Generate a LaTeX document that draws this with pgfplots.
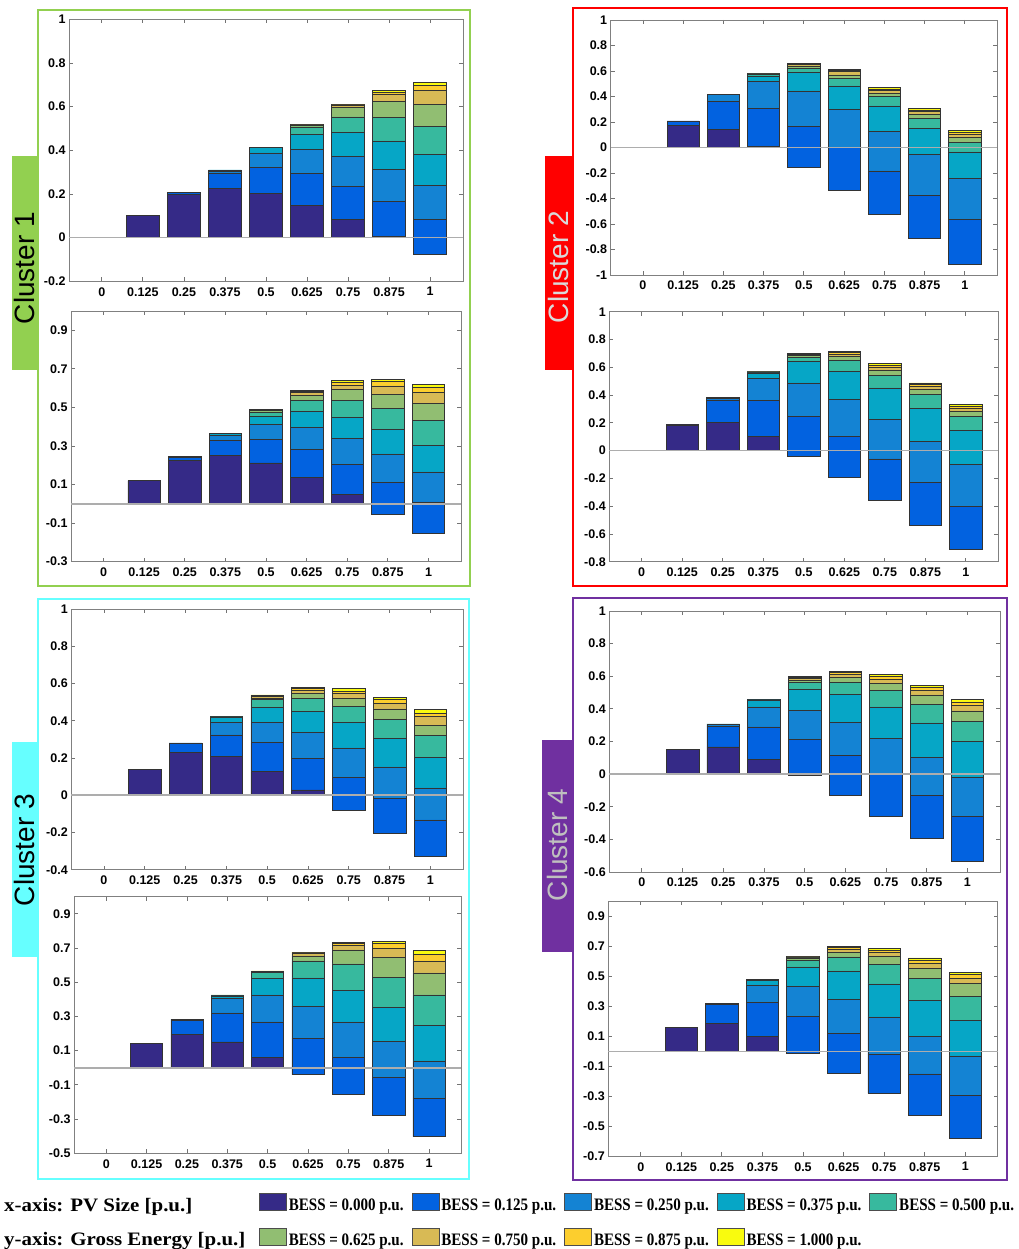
\documentclass[border=0pt]{standalone}
\usepackage{fontspec}
\usepackage{pgfplots}
\usepackage{pgfplotstable}
\pgfplotsset{compat=1.18}
\setmainfont{Liberation Sans}
\newfontfamily\arialf{Liberation Sans}
\newfontfamily\legf[FakeStretch=0.86]{Liberation Serif}
\newfontfamily\axdf[FakeStretch=1.1]{Liberation Serif}

\definecolor{c0}{RGB}{53,42,135}
\definecolor{c1}{RGB}{2,98,224}
\definecolor{c2}{RGB}{20,131,211}
\definecolor{c3}{RGB}{6,166,198}
\definecolor{c4}{RGB}{55,185,158}
\definecolor{c5}{RGB}{145,190,114}
\definecolor{c6}{RGB}{216,186,85}
\definecolor{c7}{RGB}{252,206,46}
\definecolor{c8}{RGB}{249,251,14}
\definecolor{frA}{RGB}{146,208,80}
\definecolor{frB}{RGB}{255,0,0}
\definecolor{frC}{RGB}{102,255,255}
\definecolor{frD}{RGB}{112,48,160}

% columns: x, bottom of bar, top after each BESS level (0.000 ... 1.000)
\pgfplotstableread{
x b t0 t1 t2 t3 t4 t5 t6 t7 t8
0 0 0 0 0 0 0 0 0 0 0
1 0 .102 .102 .102 .102 .102 .102 .102 .102 .102
2 0 .197 .208 .208 .208 .208 .208 .208 .208 .208
3 0 .226 .293 .304 .310 .310 .310 .310 .310 .310
4 0 .2015 .322 .388 .412 .415 .415 .415 .415 .415
5 0 .148 .296 .405 .473 .507 .513 .516 .518 .518
6 0 .084 .235 .372 .481 .553 .597 .604 .608 .611
7 0 .006 .166 .313 .443 .551 .623 .658 .667 .675
8 -.078 -.078 .084 .238 .382 .508 .612 .675 .696 .710
}\ConeT
\pgfplotstableread{
x b t0 t1 t2 t3 t4 t5 t6 t7 t8
0 0 0 0 0 0 0 0 0 0 0
1 0 .121 .121 .121 .121 .121 .121 .121 .121 .121
2 0 .226 .240 .245 .245 .245 .245 .245 .245 .245
3 0 .250 .328 .357 .364 .366 .366 .366 .366 .366
4 0 .212 .333 .410 .455 .476 .483 .486 .488 .488
5 0 .136 .281 .395 .478 .536 .564 .578 .583 .588
6 0 .047 .203 .338 .447 .536 .593 .616 .631 .640
7 -.052 -.052 .110 .259 .388 .497 .569 .612 .633 .647
8 -.153 -.153 .010 .166 .305 .431 .522 .576 .602 .621
}\ConeB
\pgfplotstableread{
x b t0 t1 t2 t3 t4 t5 t6 t7 t8
0 0 0 0 0 0 0 0 0 0 0
1 0 .172 .209 .209 .209 .209 .209 .209 .209 .209
2 0 .144 .360 .418 .418 .418 .418 .418 .418 .418
3 0 .008 .308 .520 .561 .574 .577 .579 .580 .581
4 -.154 -.154 .167 .444 .587 .621 .640 .653 .658 .661
5 -.334 -.334 0 .300 .483 .543 .569 .595 .606 .614
6 -.522 -.522 -.183 .128 .326 .402 .426 .446 .460 .470
7 -.715 -.715 -.373 -.055 .151 .230 .261 .282 .295 .305
8 -.914 -.914 -.567 -.243 -.034 .042 .078 .104 .120 .133
}\CtwoT
\pgfplotstableread{
x b t0 t1 t2 t3 t4 t5 t6 t7 t8
0 0 0 0 0 0 0 0 0 0 0
1 0 .185 .189 .189 .189 .189 .189 .189 .189 .189
2 0 .201 .365 .376 .381 .381 .381 .381 .381 .381
3 0 .103 .362 .520 .559 .564 .566 .567 .568 .568
4 -.038 -.038 .247 .487 .643 .671 .683 .690 .695 .700
5 -.194 -.194 .103 .369 .571 .650 .676 .693 .705 .712
6 -.360 -.360 -.060 .225 .451 .540 .576 .597 .614 .628
7 -.535 -.535 -.228 .065 .305 .403 .441 .460 .475 .487
8 -.710 -.710 -.400 -.101 .144 .247 .285 .302 .319 .331
}\CtwoB
\pgfplotstableread{
x b t0 t1 t2 t3 t4 t5 t6 t7 t8
0 0 0 0 0 0 0 0 0 0 0
1 0 .140 .140 .140 .140 .140 .140 .140 .140 .140
2 0 .229 .278 .281 .281 .281 .281 .281 .281 .281
3 0 .208 .324 .391 .418 .421 .423 .423 .423 .423
4 0 .127 .283 .391 .471 .513 .522 .529 .536 .539
5 0 .029 .197 .337 .450 .520 .548 .565 .572 .579
6 -.082 -.082 .097 .254 .389 .477 .522 .545 .557 .572
7 -.204 -.204 -.016 .152 .305 .407 .464 .493 .513 .527
8 -.326 -.326 -.133 .039 .201 .321 .373 .423 .441 .461
}\CthreeT
\pgfplotstableread{
x b t0 t1 t2 t3 t4 t5 t6 t7 t8
0 0 0 0 0 0 0 0 0 0 0
1 0 .141 .141 .141 .141 .141 .141 .141 .141 .141
2 0 .197 .279 .283 .283 .283 .283 .283 .283 .283
3 0 .151 .321 .404 .420 .424 .426 .426 .426 .426
4 0 .063 .268 .426 .521 .557 .562 .564 .566 .566
5 -.040 -.040 .174 .361 .525 .625 .654 .668 .672 .676
6 -.156 -.156 .063 .268 .451 .607 .689 .715 .726 .733
7 -.277 -.277 -.056 .155 .354 .526 .647 .699 .727 .740
8 -.402 -.402 -.177 .040 .246 .426 .555 .625 .664 .684
}\CthreeB
\pgfplotstableread{
x b t0 t1 t2 t3 t4 t5 t6 t7 t8
0 0 0 0 0 0 0 0 0 0 0
1 0 .153 .153 .153 .153 .153 .153 .153 .153 .153
2 0 .167 .294 .304 .308 .308 .308 .308 .308 .308
3 0 .092 .290 .412 .455 .459 .459 .459 .459 .459
4 -.010 -.010 .214 .392 .520 .561 .576 .586 .592 .598
5 -.131 -.131 .114 .318 .488 .563 .592 .610 .622 .631
6 -.259 -.259 -.004 .218 .412 .514 .555 .582 .598 .610
7 -.394 -.394 -.129 .104 .314 .429 .486 .514 .531 .545
8 -.535 -.535 -.259 -.018 .202 .322 .388 .422 .443 .459
}\CfourT
\pgfplotstableread{
x b t0 t1 t2 t3 t4 t5 t6 t7 t8
0 0 0 0 0 0 0 0 0 0 0
1 0 .157 .157 .157 .157 .157 .157 .157 .157 .157
2 0 .184 .312 .319 .319 .319 .319 .319 .319 .319
3 0 .098 .324 .443 .474 .479 .479 .479 .479 .479
4 -.013 -.013 .235 .434 .563 .607 .623 .629 .631 .632
5 -.146 -.146 .117 .348 .536 .629 .660 .680 .691 .698
6 -.281 -.281 -.018 .230 .450 .581 .636 .660 .674 .687
7 -.428 -.428 -.151 .102 .337 .485 .554 .590 .607 .623
8 -.578 -.578 -.293 -.031 .208 .368 .452 .488 .512 .527
}\CfourB

\newcommand\stackbars[1]{%
  \addplot[draw=none,fill=none] table[x=x,y=b]{#1};
  \addplot[fill=c0] table[x=x,y expr=\thisrow{t0}-\thisrow{b}]{#1};
  \addplot[fill=c1] table[x=x,y expr=\thisrow{t1}-\thisrow{t0}]{#1};
  \addplot[fill=c2] table[x=x,y expr=\thisrow{t2}-\thisrow{t1}]{#1};
  \addplot[fill=c3] table[x=x,y expr=\thisrow{t3}-\thisrow{t2}]{#1};
  \addplot[fill=c4] table[x=x,y expr=\thisrow{t4}-\thisrow{t3}]{#1};
  \addplot[fill=c5] table[x=x,y expr=\thisrow{t5}-\thisrow{t4}]{#1};
  \addplot[fill=c6] table[x=x,y expr=\thisrow{t6}-\thisrow{t5}]{#1};
  \addplot[fill=c7] table[x=x,y expr=\thisrow{t7}-\thisrow{t6}]{#1};
  \addplot[fill=c8] table[x=x,y expr=\thisrow{t8}-\thisrow{t7}]{#1};
}

\pgfplotsset{panel/.style={
  scale only axis, axis on top,
  ybar stacked, stack negative=on previous, bar width=0.8,
  xmin=-0.8, xmax=8.8, xtick={0,...,8},
  xticklabels={0,0.125,0.25,0.375,0.5,0.625,0.75,0.875,1},
  xtick pos=both, ytick pos=both, tick align=inside,
  major tick length=4pt,
  axis line style={black!50, line width=0.8pt},
  every tick/.style={black!55, line width=0.8pt},
  tick label style={font=\arialf\bfseries\fontsize{12.5}{14}\selectfont},
  xticklabel style={yshift=-2.5pt},
  /pgf/number format/assume math mode=true,
  extra y ticks={0}, extra y tick labels={},
  extra y tick style={grid=major, major grid style={black!32, line width=1.5pt}, major tick length=0pt},
  every axis plot/.append style={draw=black!80, line width=0.6pt},
}}

\begin{document}
\begin{tikzpicture}
\useasboundingbox (0pt,0pt) rectangle (1018pt,-1249pt);
% cluster frames and labels
\draw[frA, line width=1.6pt] (38pt,-10pt) rectangle (470pt,-586pt);
\draw[frB, line width=1.8pt] (573pt,-8pt) rectangle (1007pt,-586pt);
\draw[frC, line width=1.6pt] (38pt,-599pt) rectangle (469pt,-1179pt);
\draw[frD, line width=1.8pt] (573pt,-598pt) rectangle (1007pt,-1180pt);
\fill[frA] (12pt,-156pt) rectangle (37pt,-370pt);
\fill[frB] (545pt,-156pt) rectangle (572pt,-370pt);
\fill[frC] (12pt,-742pt) rectangle (37pt,-957pt);
\fill[frD] (542pt,-740pt) rectangle (572pt,-952pt);
\node[rotate=90, font=\arialf\fontsize{28}{30}\selectfont, text=black, inner sep=0pt] at (24.5pt,-268pt) {Cluster 1};
\node[rotate=90, font=\arialf\fontsize{28}{30}\selectfont, text=black!15, inner sep=0pt] at (558pt,-267pt) {Cluster 2};
\node[rotate=90, font=\arialf\fontsize{28}{30}\selectfont, text=black, inner sep=0pt] at (24.5pt,-850pt) {Cluster 3};
\node[rotate=90, font=\arialf\fontsize{28}{30}\selectfont, text=black!25, inner sep=0pt] at (557pt,-845pt) {Cluster 4};

% Cluster 1
\begin{axis}[panel, at={(69pt,-281.3pt)}, anchor=south west, width=394pt, height=262pt,
  ymin=-0.2, ymax=1, ytick={-0.2,0,0.2,0.4,0.6,0.8,1}]
\stackbars{\ConeT}
\end{axis}
\begin{axis}[panel, at={(71pt,-561.7pt)}, anchor=south west, width=390pt, height=250.7pt,
  ymin=-0.3, ymax=1, ytick={-0.3,-0.1,0.1,0.3,0.5,0.7,0.9}]
\stackbars{\ConeB}
\end{axis}
% Cluster 2
\begin{axis}[panel, at={(610.7pt,-275pt)}, anchor=south west, width=386.3pt, height=255pt,
  ymin=-1, ymax=1, ytick={-1,-0.8,-0.6,-0.4,-0.2,0,0.2,0.4,0.6,0.8,1}]
\stackbars{\CtwoT}
\end{axis}
\begin{axis}[panel, at={(609.3pt,-561.7pt)}, anchor=south west, width=389pt, height=250pt,
  ymin=-0.8, ymax=1, ytick={-0.8,-0.6,-0.4,-0.2,0,0.2,0.4,0.6,0.8,1}]
\stackbars{\CtwoB}
\end{axis}
% Cluster 3
\begin{axis}[panel, at={(71.3pt,-869.7pt)}, anchor=south west, width=391.7pt, height=260.7pt,
  ymin=-0.4, ymax=1, ytick={-0.4,-0.2,0,0.2,0.4,0.6,0.8,1}]
\stackbars{\CthreeT}
\end{axis}
\begin{axis}[panel, at={(74pt,-1153.3pt)}, anchor=south west, width=387.3pt, height=256.6pt,
  ymin=-0.5, ymax=1, ytick={-0.5,-0.3,-0.1,0.1,0.3,0.5,0.7,0.9}]
\stackbars{\CthreeB}
\end{axis}
% Cluster 4
\begin{axis}[panel, at={(609.3pt,-872pt)}, anchor=south west, width=390.7pt, height=261pt,
  ymin=-0.6, ymax=1, ytick={-0.6,-0.4,-0.2,0,0.2,0.4,0.6,0.8,1}]
\stackbars{\CfourT}
\end{axis}
\begin{axis}[panel, at={(608.3pt,-1156.3pt)}, anchor=south west, width=389.4pt, height=255pt,
  ymin=-0.7, ymax=1, ytick={-0.7,-0.5,-0.3,-0.1,0.1,0.3,0.5,0.7,0.9}]
\stackbars{\CfourB}
\end{axis}

% legend
\begin{axis}[at={(0pt,-1249pt)}, anchor=south west, scale only axis, width=1018pt, height=1249pt,
  hide axis, xmin=0, xmax=1018, ymin=0, ymax=1249,
  legend columns=5,
  legend style={at={(axis cs:259,56)}, anchor=north west, draw=none, fill=none,
    inner sep=0pt, outer sep=0pt,
    font=\legf\bfseries\fontsize{17.5}{20}\selectfont,
    row sep=14pt, /tikz/every even column/.append style={column sep=6pt}},
  legend image code/.code={\draw[#1, draw=black!70, line width=0.8pt] (0pt,-5pt) rectangle (27pt,12pt);},
]
\addlegendimage{fill=c0}\addlegendentry{BESS = 0.000 p.u.}
\addlegendimage{fill=c1}\addlegendentry{BESS = 0.125 p.u.}
\addlegendimage{fill=c2}\addlegendentry{BESS = 0.250 p.u.}
\addlegendimage{fill=c3}\addlegendentry{BESS = 0.375 p.u.}
\addlegendimage{fill=c4}\addlegendentry{BESS = 0.500 p.u.}
\addlegendimage{fill=c5}\addlegendentry{BESS = 0.625 p.u.}
\addlegendimage{fill=c6}\addlegendentry{BESS = 0.750 p.u.}
\addlegendimage{fill=c7}\addlegendentry{BESS = 0.875 p.u.}
\addlegendimage{fill=c8}\addlegendentry{BESS = 1.000 p.u.}
\end{axis}
\node[anchor=base west, inner sep=0pt, font=\axdf\bfseries\fontsize{19}{21}\selectfont] at (4pt,-1211pt) {x-axis: PV Size [p.u.]};
\node[anchor=base west, inner sep=0pt, font=\axdf\bfseries\fontsize{19}{21}\selectfont] at (4pt,-1245pt) {y-axis: Gross Energy [p.u.]};
\end{tikzpicture}
\end{document}
